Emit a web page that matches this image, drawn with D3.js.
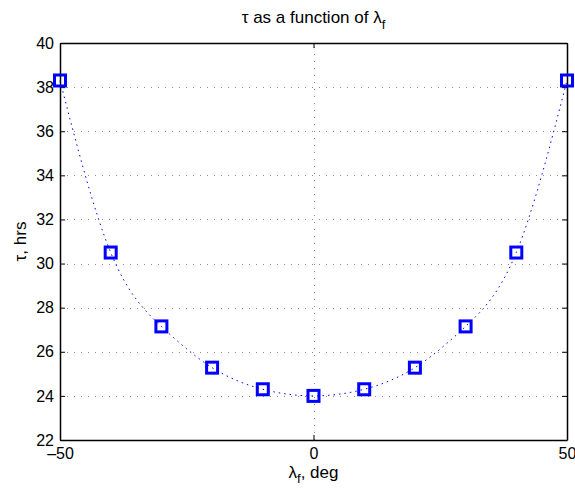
<!DOCTYPE html>
<html>
<head>
<meta charset="utf-8">
<script src="https://cdn.jsdelivr.net/npm/d3@7"></script>
<style>
  html, body { margin: 0; padding: 0; background: #fff; }
  svg { display: block; font-family: "Liberation Sans", Arial, Helvetica, sans-serif; }
</style>
</head>
<body>
<svg id="chart" width="575" height="492"></svg>
<script>
// Latitude of the site (deg) and the resulting period tau (hours)
const latitudes = [-50, -40, -30, -20, -10, 0, 10, 20, 30, 40, 50];
const tauHours  = [38.3, 30.5, 27.15, 25.28, 24.3, 24.0, 24.3, 25.28, 27.15, 30.5, 38.3];

const xTicks = [-50, 0, 50];
const yTicks = [22, 24, 26, 28, 30, 32, 34, 36, 38, 40];
const xGrid = [0];
const yGrid = [24, 26, 28, 30, 32, 34, 36, 38];

const margin = { left: 60, top: 43, right: 8, bottom: 52 };
const W = 575, H = 492;
const svg = d3.select("#chart");

const x = d3.scaleLinear().domain([-50, 50]).range([margin.left, W - margin.right]);
const y = d3.scaleLinear().domain([22, 40]).range([H - margin.bottom, margin.top]);

const x0 = x.range()[0], x1 = x.range()[1];
const y0 = y.range()[0], y1 = y.range()[1];

// grid
const grid = svg.append("g").attr("stroke", "#8c8c8c").attr("stroke-width", 1)
  .attr("stroke-dasharray", "1,6").attr("fill", "none");
grid.selectAll("line.h").data(yGrid).join("line").attr("class", "h")
  .attr("x1", x0).attr("x2", x1)
  .attr("y1", d => Math.round(y(d)) + 0.5).attr("y2", d => Math.round(y(d)) + 0.5);
grid.selectAll("line.v").data(xGrid).join("line").attr("class", "v")
  .attr("y1", y0).attr("y2", y1)
  .attr("x1", d => Math.round(x(d)) + 0.5).attr("x2", d => Math.round(x(d)) + 0.5);

// axes (ticks inward, box on all sides)
const tickLen = 5;
const fmt = d => d < 0 ? "\u2013" + Math.abs(d) : String(d);

const axBottom = svg.append("g").attr("transform", `translate(0,${y0})`)
  .call(d3.axisBottom(x).tickValues(xTicks).tickSizeInner(-tickLen).tickSizeOuter(0).tickPadding(8).tickFormat(fmt));
const axTop = svg.append("g").attr("transform", `translate(0,${y1})`)
  .call(d3.axisTop(x).tickValues(xTicks).tickSizeInner(-tickLen).tickSizeOuter(0).tickFormat(""));
const axLeft = svg.append("g").attr("transform", `translate(${x0},0)`)
  .call(d3.axisLeft(y).tickValues(yTicks).tickSizeInner(-tickLen).tickSizeOuter(0).tickPadding(6).tickFormat(fmt));
const axRight = svg.append("g").attr("transform", `translate(${x1},0)`)
  .call(d3.axisRight(y).tickValues(yTicks).tickSizeInner(-tickLen).tickSizeOuter(0).tickFormat(""));
[axBottom, axTop, axLeft, axRight].forEach(g => {
  g.select(".domain").attr("stroke", "#000").attr("stroke-width", 1.5);
  g.selectAll(".tick line").attr("stroke", "#000");
  g.selectAll("text").attr("font-size", 16).attr("fill", "#000")
    .attr("font-family", "'Liberation Sans', Arial, Helvetica, sans-serif");
});

// dotted connecting curve
const pts = latitudes.map((d, i) => [d, tauHours[i]]);
const line = d3.line().x(d => x(d[0])).y(d => y(d[1])).curve(d3.curveNatural);
svg.append("path")
  .datum(pts)
  .attr("fill", "none")
  .attr("stroke", "#0000ff")
  .attr("stroke-width", 1)
  .attr("stroke-dasharray", "1.5,4")
  .attr("d", line);

// square markers
const ms = 11;
svg.append("g").selectAll("rect").data(pts).join("rect")
  .attr("x", d => x(d[0]) - ms / 2)
  .attr("y", d => y(d[1]) - ms / 2)
  .attr("width", ms).attr("height", ms)
  .attr("fill", "none").attr("stroke", "#0000ff").attr("stroke-width", 3);

// title
const title = svg.append("text")
  .attr("x", (x0 + x1) / 2).attr("y", 23)
  .attr("text-anchor", "middle").attr("font-size", 17).attr("fill", "#000");
title.append("tspan").text("\u03c4 as a function of \u03bb");
title.append("tspan").attr("font-size", 13).attr("dy", 6).text("f");

// x label
const xl = svg.append("text")
  .attr("x", (x0 + x1) / 2).attr("y", 478)
  .attr("text-anchor", "middle").attr("font-size", 17).attr("fill", "#000");
xl.append("tspan").text("\u03bb");
xl.append("tspan").attr("font-size", 13).attr("dy", 5).text("f");
xl.append("tspan").attr("dy", -5).text(", deg");

// y label
svg.append("text")
  .attr("transform", `translate(26,${(y0 + y1) / 2}) rotate(-90)`)
  .attr("text-anchor", "middle").attr("font-size", 17).attr("fill", "#000")
  .text("\u03c4, hrs");
</script>
</body>
</html>
